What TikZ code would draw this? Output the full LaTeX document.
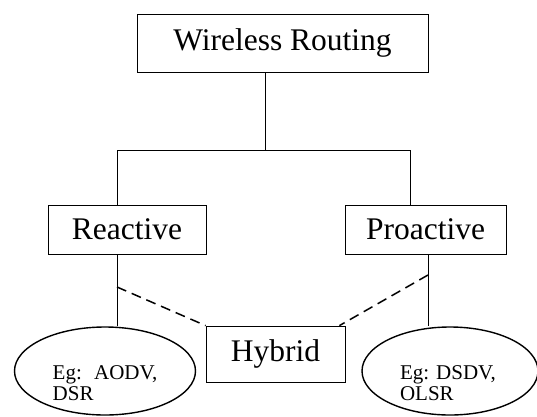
\documentclass[tikz,border=0pt]{standalone}
\usepackage{fontspec}
\setmainfont{Liberation Serif}
\usetikzlibrary{shapes.geometric}

\begin{document}
\begin{tikzpicture}[x=1pt, y=1pt,
					tree box/.style={draw, line width=0.8pt, inner sep=0pt, font=\fontsize{31.5}{36}\selectfont},
					example oval/.style={draw, line width=1.4pt, ellipse, inner sep=0pt},
					example label/.style={align=left, font=\fontsize{21}{21}\selectfont},
					hybrid link/.style={draw, line width=1.5pt, dash pattern=on 10pt off 6pt},
				]
					\useasboundingbox (0,0) rectangle (537,416);
					
					\node[tree box, minimum width=291, minimum height=58] (wr) at (282.5,373) {Wireless Routing};
					\node[tree box, minimum width=158, minimum height=49] (reactive) at (127,186.5) {Reactive};
					\node[tree box, minimum width=161, minimum height=49] (proactive) at (425.5,186.5) {Proactive};
					\node[tree box, minimum width=139, minimum height=56] (hybrid) at (275.5,62) {Hybrid};
					
					\node[example oval, minimum width=181, minimum height=88] (aodv) at (105,45) {};
					\node[example oval, minimum width=176, minimum height=88] (dsdv) at (450,45) {};
					\node[example label] (aodvtext) at (105,33) {Eg:~ AODV,\\DSR};
					\node[example label] (dsdvtext) at (448,33) {Eg: DSDV,\\OLSR};
					
					% tree lines
					\coordinate (split) at (265,266);
					\coordinate (left end) at (117,266);
					\coordinate (right end) at (410,266);
					\coordinate (rdash) at (117,129);
					\coordinate (pdash) at (428,141);
					\draw[line width=0.8pt] (split |- wr.south) -- (split);
					\draw[line width=0.8pt] (left end |- reactive.north) -- (left end) -- (right end) -- (right end |- proactive.north);
					\draw[line width=0.8pt] (rdash |- reactive.south) -- (rdash |- aodv.north);
					\draw[line width=0.8pt] (pdash |- proactive.south) -- (pdash |- dsdv.north);
					
					% hybrid
					\draw[hybrid link] (rdash) -- (hybrid.north west);
					\draw[hybrid link] (pdash) -- ([xshift=-6pt]hybrid.north east);
				\end{tikzpicture}
\end{document}
